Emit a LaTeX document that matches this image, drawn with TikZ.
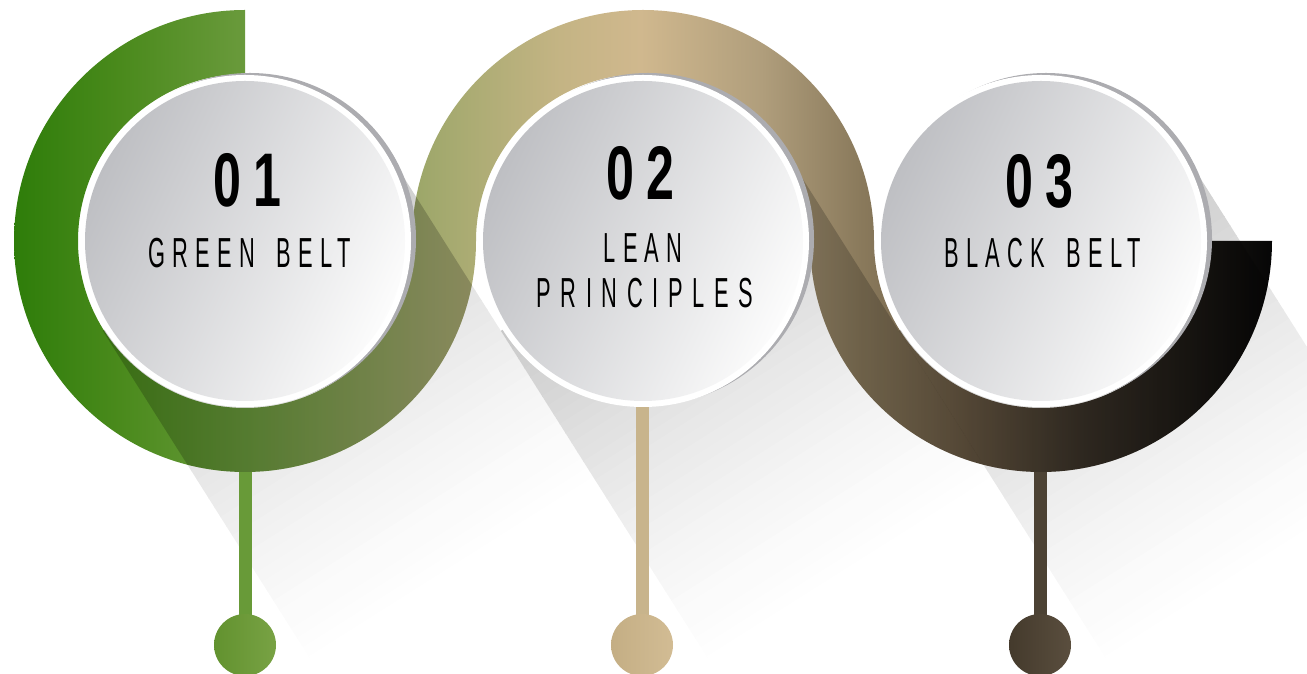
\documentclass[tikz,border=0pt]{standalone}
\usepackage{fontspec}
\usetikzlibrary{calc}
\setmainfont{Liberation Sans}
\newfontfamily\numfont{Liberation Sans}[FakeStretch=0.66, LetterSpace=16]
\newfontfamily\lblfont{Liberation Sans}[FakeStretch=0.52, LetterSpace=17]
\newfontfamily\lblwidefont{Liberation Sans}[FakeStretch=0.52, LetterSpace=23]
\definecolor{c0}{HTML}{2E7D0A}
\definecolor{c1}{HTML}{4A8A1C}
\definecolor{c2}{HTML}{6A9A3C}
\definecolor{c3}{HTML}{A0A86C}
\definecolor{c4}{HTML}{C4B484}
\definecolor{c5}{HTML}{D0B88E}
\definecolor{c6}{HTML}{B09E7C}
\definecolor{c7}{HTML}{8A7A5C}
\definecolor{c8}{HTML}{6A5A44}
\definecolor{c9}{HTML}{3A3228}
\definecolor{c10}{HTML}{060606}
\definecolor{stemA}{HTML}{689A38}
\definecolor{stemB}{HTML}{C8B48C}
\definecolor{stemC}{HTML}{4C4234}
\definecolor{pinAl}{HTML}{62922F}
\definecolor{pinAr}{HTML}{78A244}
\definecolor{pinBl}{HTML}{C4AE84}
\definecolor{pinBr}{HTML}{D2BC94}
\definecolor{pinCl}{HTML}{443A2C}
\definecolor{pinCr}{HTML}{5A4E3E}
\definecolor{discL}{HTML}{BEBFC3}
\definecolor{discR}{HTML}{FCFCFC}
\definecolor{rimgray}{HTML}{ACACB0}
\pgfdeclarehorizontalshading{bandshade}{100bp}{color(0bp)=(c0); color(25bp)=(c0); color(29.2bp)=(c1); color(34.2bp)=(c2); color(41.5bp)=(c3); color(46.7bp)=(c4); color(49.9bp)=(c5); color(54.7bp)=(c6); color(58.6bp)=(c7); color(62.6bp)=(c8); color(67.4bp)=(c9); color(75bp)=(c10); color(100bp)=(c10)}
\newcommand\bandpath{(245,664) arc[start angle=90,end angle=360,radius=231] arc[start angle=180,end angle=0,radius=167] arc[start angle=180,end angle=360,radius=231] -- (1208,433) arc[start angle=360,end angle=180,radius=167] arc[start angle=0,end angle=180,radius=231] arc[start angle=360,end angle=90,radius=167] -- cycle}
\tikzset{
  numtext/.style={anchor=base, inner sep=0pt, font=\numfont\bfseries\fontsize{76}{76}\selectfont},
  lbltext/.style={anchor=base, inner sep=0pt, font=\lblfont\fontsize{42}{42}\selectfont},
  lblwide/.style={anchor=base, inner sep=0pt, font=\lblwidefont\fontsize{42}{42}\selectfont},
  whitedisc/.style={fill=white},
  graydisc/.style={fill=rimgray},
}
\begin{document}
\begin{tikzpicture}[x=1pt,y=1pt]
\useasboundingbox (0,0) rectangle (1307,674);
\clip (0,0) rectangle (1307,674);
\coordinate (C1) at (245,433);
\coordinate (C2) at (643,433);
\coordinate (C3) at (1041,433);
% background long shadows
\foreach \c in {C1,C2,C3}{
  \begin{scope}[shift={(\c)}, rotate=-57.7]
    \foreach \k in {0,...,35}{
      \pgfmathsetmacro\v{21*(1-\k/36)^1.4}
      \fill[black!\v] (\k*11,-168.2) rectangle (\k*11+12,168.2);
    }
  \end{scope}
}
% stems and pins
\fill[stemA] (238.5,40) rectangle (251.5,250);
\fill[stemB] (636,40) rectangle (649,300);
\fill[stemC] (1034,40) rectangle (1047,250);
\shade[left color=pinAl, right color=pinAr] (245,29) circle (31);
\shade[left color=pinBl, right color=pinBr] (642,29) circle (31);
\shade[left color=pinCl, right color=pinCr] (1040,29) circle (31);
% band
\shade[shading=bandshade] \bandpath;
\begin{scope}
  \clip \bandpath;
  \foreach \c in {C1,C2,C3}{
    \begin{scope}[shift={(\c)}, rotate=-57.7]
      \fill[black, opacity=0.2] (0,-168.2) rectangle (560,168.2);
    \end{scope}
  }
\end{scope}
% discs
\foreach \c in {C1,C2,C3}{
  \fill[graydisc] ($(\c)+(5,2)$) circle (166);
  \fill[whitedisc] (\c) circle (166);
  \shade[top color=discL, bottom color=discR, shading angle=65] (\c) circle (160);
}
% texts
\node[numtext] (n1) at (247,467) {01};
\node[lbltext] (l1) at (250,406) {GREEN\hspace{22pt}BELT};
\node[numtext] (n2) at (640,474) {02};
\node[lbltext] (l2a) at (643,411) {LEAN};
\node[lblwide] (l2b) at (645,366) {PRINCIPLES};
\node[numtext] (n3) at (1039,466) {03};
\node[lbltext] (l3) at (1043,406) {BLACK\hspace{22pt}BELT};
\end{tikzpicture}
\end{document}
